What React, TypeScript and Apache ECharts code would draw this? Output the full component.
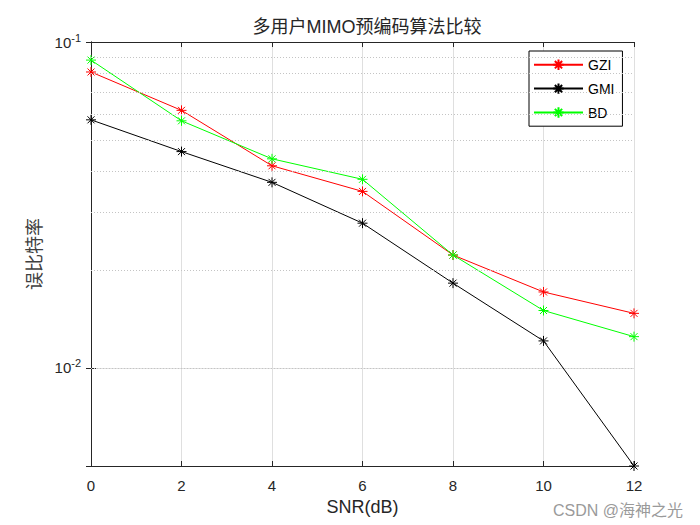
import React, { useEffect, useRef } from "react";
import * as echarts from "echarts";

const snr = [0, 2, 4, 6, 8, 10, 12];
const gzi = [0.0809, 0.0617, 0.0417, 0.0348, 0.0222, 0.0171, 0.0147];
const gmi = [0.0577, 0.0461, 0.0371, 0.0278, 0.0182, 0.0121, 0.005];
const bd = [0.088, 0.0573, 0.0438, 0.0379, 0.0222, 0.015, 0.01247];
const minorGrid = [0.006, 0.007, 0.008, 0.009, 0.02, 0.03, 0.04, 0.05, 0.06, 0.07, 0.08, 0.09];
const yTickLabels: Record<string, string> = { "0.1": "-1", "0.01": "-2" };

const FONT = "'Liberation Sans', 'Noto Sans CJK SC', sans-serif";
const STAR = "path://M5,0L5,10M0,5L10,5M1.5,1.5L8.5,8.5M1.5,8.5L8.5,1.5";

export default function App() {
  const ref = useRef<HTMLDivElement>(null);
  useEffect(() => {
    document.body.style.margin = "0";
    const chart = echarts.init(ref.current!, null, { renderer: "svg" });
    const mk = (name: string, data: number[], color: string) => ({
      name,
      type: "line",
      data: snr.map((x, i) => [x, data[i]]),
      symbol: STAR,
      symbolSize: 10,
      showSymbol: true,
      lineStyle: { color, width: 1 },
      itemStyle: { color: "none", borderColor: color, borderWidth: 1 },
      emphasis: { disabled: true },
      z: 3,
    });
    chart.setOption({
      animation: false,
      textStyle: { fontFamily: FONT },
      title: {
        text: "多用户MIMO预编码算法比较",
        left: 362,
        top: 13,
        textAlign: "center",
        textStyle: { fontSize: 18, fontWeight: "normal", color: "#262626", fontFamily: FONT },
      },
      grid: { left: 91, right: 66, top: 42, bottom: 59, containLabel: false },
      legend: {
        data: ["GZI", "GMI", "BD"],
        orient: "vertical",
        left: 529,
        top: 51,
        padding: [6, 8, 6, 4],
        itemWidth: 49,
        itemHeight: 13,
        itemGap: 8.5,
        backgroundColor: "#fff",
        borderColor: "#000",
        borderWidth: 1,
        borderRadius: 0,
        textStyle: { fontSize: 14, color: "#000", fontFamily: FONT },
      },
      xAxis: [
        {
          type: "value",
          min: 0,
          max: 12,
          interval: 2,
          name: "SNR(dB)",
          nameLocation: "middle",
          nameGap: 32,
          nameTextStyle: { fontSize: 18, color: "#262626" },
          axisLine: { lineStyle: { color: "#262626", width: 1 } },
          axisTick: { inside: true, length: 5, lineStyle: { color: "#262626" } },
          axisLabel: { fontSize: 15, color: "#262626", margin: 12 },
          splitLine: { show: true, lineStyle: { color: "#dfdfdf", width: 1 } },
        },
        {
          type: "value",
          position: "top",
          min: 0,
          max: 12,
          interval: 2,
          axisLine: { show: true, lineStyle: { color: "#262626", width: 1 } },
          axisTick: { show: true, inside: true, length: 5, lineStyle: { color: "#262626" } },
          axisLabel: { show: false },
          splitLine: { show: false },
        },
      ],
      yAxis: [
        {
          type: "log",
          logBase: 10,
          min: 0.005,
          max: 0.1,
          name: "误比特率",
          nameLocation: "middle",
          nameGap: 45,
          nameTextStyle: { fontSize: 18, color: "#404040" },
          axisLine: { show: true, lineStyle: { color: "#262626", width: 1 } },
          axisTick: { show: true, inside: true, length: 5, lineStyle: { color: "#262626" } },
          axisLabel: {
            color: "#262626",
            margin: 10,
            showMinLabel: true,
            formatter: (v: number) => {
              const k = String(Number(v.toPrecision(6)));
              return yTickLabels[k] ? `{b|10}{s|${yTickLabels[k]}}` : "";
            },
            rich: {
              b: { fontSize: 15, color: "#262626", fontFamily: FONT, padding: [0, 0, 0, 0] },
              s: { fontSize: 11, color: "#262626", fontFamily: FONT, padding: [0, 0, 9, 0] },
            },
          },
          splitLine: { show: true, lineStyle: { color: "#dfdfdf", width: 1 } },
        },
        {
          type: "log",
          logBase: 10,
          min: 0.005,
          max: 0.1,
          position: "right",
          axisLine: { show: true, lineStyle: { color: "#262626", width: 1 } },
          axisTick: { show: true, inside: true, length: 5, lineStyle: { color: "#262626" } },
          axisLabel: { show: false },
          splitLine: { show: false },
        },
      ],
      series: [
        {
          name: "grid",
          type: "line",
          data: [],
          silent: true,
          z: 1,
          markLine: {
            silent: true,
            symbol: ["none", "none"],
            label: { show: false },
            emphasis: { disabled: true },
            lineStyle: { color: "#c4c4c4", type: [1, 2], width: 1 },
            data: minorGrid.map((v) => ({ yAxis: v })),
          },
        },
        mk("GZI", gzi, "#ff0000"),
        mk("GMI", gmi, "#000000"),
        mk("BD", bd, "#00ff00"),
      ],
      graphic: [
        {
          type: "text",
          right: 17,
          bottom: 7,
          style: { text: "CSDN @海神之光", fontSize: 16, fill: "#9a9a9a", fontFamily: FONT },
          silent: true,
        },
      ],
    });
    return () => chart.dispose();
  }, []);
  return <div ref={ref} style={{ width: 700, height: 525, position: "absolute", left: 0, top: 0, background: "#fff" }} />;
}
